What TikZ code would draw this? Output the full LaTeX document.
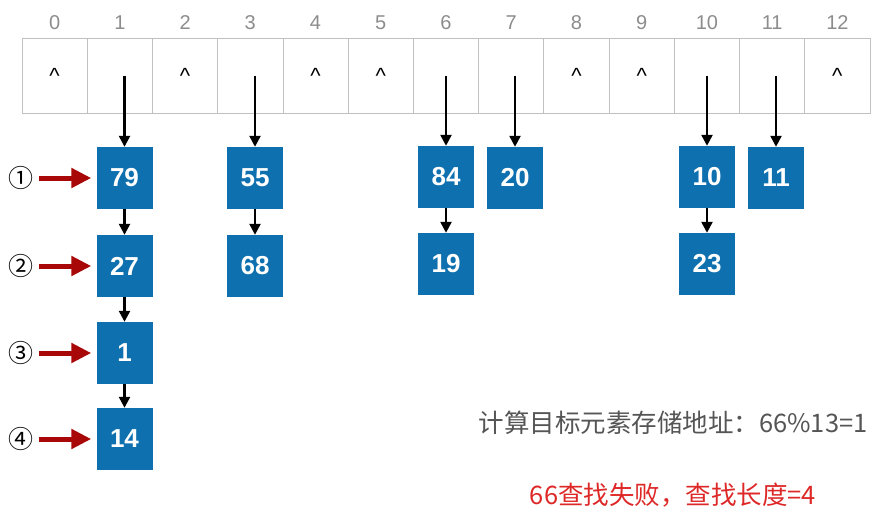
\documentclass[tikz,border=0pt]{standalone}
\usepackage{fontspec}
\setmainfont{Liberation Sans}
\newfontfamily\cjk{Noto Sans CJK SC}
\usetikzlibrary{arrows.meta}
\definecolor{CellGray}{RGB}{192,192,192}
\definecolor{IdxGray}{RGB}{140,140,140}
\definecolor{NodeBlue}{RGB}{14,112,175}
\definecolor{ProbeRed}{RGB}{168,8,8}
\definecolor{FailRed}{RGB}{222,40,40}
\definecolor{TextGray}{RGB}{85,85,85}

\begin{document}
\begin{tikzpicture}[x=1pt,y=-1pt,
    cell/.style={draw=CellGray,line width=0.8pt,minimum width=65.23pt,
                 minimum height=75pt,inner sep=0pt},
    idx/.style={text=IdxGray,font=\fontsize{20}{20}\selectfont},
    nil/.style={font=\fontsize{22}{22}\selectfont},
    elem/.style={fill=NodeBlue,minimum width=56pt,minimum height=62pt,inner sep=0pt,
                 text=white,font=\fontsize{26}{26}\selectfont\bfseries},
    ptr/.style={-{Triangle[length=11pt,width=11pt]},line width=2.4pt},
    probe/.style={-{Triangle[length=20pt,width=19pt]},line width=5pt,draw=ProbeRed,
                  shorten >=5pt,shorten <=2pt},
    stepno/.style={font=\cjk\fontsize{25}{25}\selectfont}]
  \useasboundingbox (0,0) rectangle (890,509);
  % hash table slots
  \foreach \i in {0,...,12} {
    \node[cell] (c\i) at ({54.6+65.23*\i},75.5) {};
    \node[idx] (i\i) at ({54.6+65.23*\i},23) {\i};
  }
  \foreach \i in {0,2,4,5,8,9,12}
    \node[nil] (h\i) at (c\i.center) {\textasciicircum};
  % chained elements
  \node[elem] (e79) at (124.5,178) {79};
  \node[elem] (e27) at (124.5,266) {27};
  \node[elem] (e1)  at (124.5,353) {1};
  \node[elem] (e14) at (124.5,439) {14};
  \node[elem] (e55) at (255,178) {55};
  \node[elem] (e68) at (255,266) {68};
  \node[elem] (e84) at (446,177) {84};
  \node[elem] (e19) at (446,264) {19};
  \node[elem] (e20) at (515,178) {20};
  \node[elem] (e10) at (707,177) {10};
  \node[elem] (e23) at (707,264) {23};
  \node[elem] (e11) at (776,178) {11};
  % slot pointers
  \draw[ptr] (c1.center -| e79) -- (e79);
  \draw[ptr] (c3.center -| e55) -- (e55);
  \draw[ptr] (c6.center -| e84) -- (e84);
  \draw[ptr] (c7.center -| e20) -- (e20);
  \draw[ptr] (c10.center -| e10) -- (e10);
  \draw[ptr] (c11.center -| e11) -- (e11);
  \draw[ptr] (e79) -- (e27);
  \draw[ptr] (e27) -- (e1);
  \draw[ptr] (e1) -- (e14);
  \draw[ptr] (e55) -- (e68);
  \draw[ptr] (e84) -- (e19);
  \draw[ptr] (e10) -- (e23);
  % probe steps
  \node[stepno] (n1) at (21,178) {①};
  \node[stepno] (n2) at (21,266) {②};
  \node[stepno] (n3) at (21,353) {③};
  \node[stepno] (n4) at (21,439) {④};
  \draw[probe] (n1) -- (e79);
  \draw[probe] (n2) -- (e27);
  \draw[probe] (n3) -- (e1);
  \draw[probe] (n4) -- (e14);
  % notes
  \node[font=\cjk\fontsize{25.5}{25.5}\selectfont,text=TextGray] (calc) at (673,423)
    {计算目标元素存储地址：66\%13=1};
  \node[font=\cjk\fontsize{25.5}{25.5}\selectfont,text=FailRed] (fail) at (673,495)
    {66查找失败，查找长度=4};
\end{tikzpicture}
\end{document}
